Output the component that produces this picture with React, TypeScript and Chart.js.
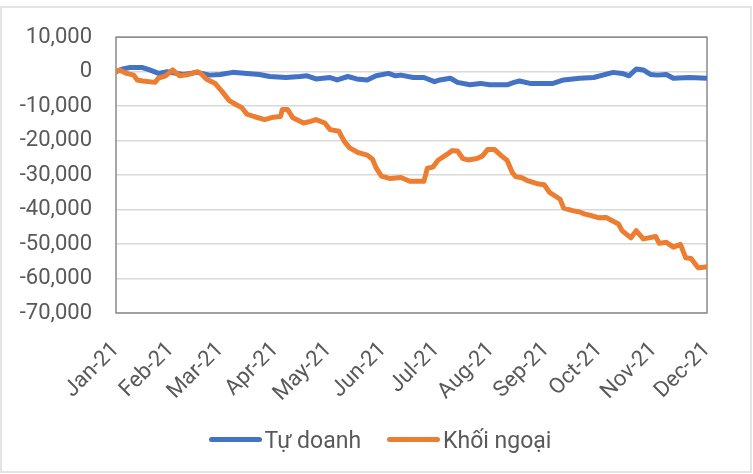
import React, { useEffect, useRef } from "react";
import { Chart, registerables } from "chart.js";

Chart.register(...registerables);

// Month tick labels and their day-of-year positions (date axis)
const monthLabels = ["Jan-21", "Feb-21", "Mar-21", "Apr-21", "May-21", "Jun-21", "Jul-21", "Aug-21", "Sep-21", "Oct-21", "Nov-21", "Dec-21"];
const monthStartDays = [0, 31, 59, 90, 120, 151, 181, 212, 243, 273, 304, 334];

// Y axis range
const yMin = -70000;
const yMax = 10000;
const yStep = 10000;

// Series: "Tự doanh"
const tuDoanhDays = [
  0, 4, 8, 15, 19, 24, 29, 38, 46, 53,
  59, 66, 74, 81, 87, 96, 104, 108, 113, 121,
  125, 131, 136, 142, 147, 154, 158, 161, 168, 174,
  180, 183, 189, 193, 200, 206, 211, 221, 225, 228,
  234, 247, 253, 262, 270, 275, 281, 286, 290, 294,
  298, 302, 306, 311, 315, 324, 334,
];
const tuDoanhValues = [
  0, 800, 1200, 1200, 500, -500, 0, -800, -200, -1000,
  -800, -200, -500, -800, -1400, -1700, -1400, -1200, -2100, -1700,
  -2400, -1400, -2100, -2400, -1200, -500, -1200, -1000, -1700, -1700,
  -2900, -2400, -1900, -3100, -3800, -3400, -3800, -3800, -3100, -2700,
  -3400, -3400, -2400, -1900, -1700, -1000, -200, -500, -1200, 800,
  500, -800, -1000, -800, -1900, -1700, -1900,
];

// Series: "Khối ngoại"
const khoiNgoaiDays = [
  0, 2, 6, 10, 12, 15, 22, 24, 28, 32,
  36, 41, 46, 48, 51, 56, 60, 64, 68, 71,
  74, 78, 84, 89, 93, 94, 97, 100, 106, 110,
  113, 118, 121, 126, 129, 132, 137, 142, 145, 147,
  150, 155, 161, 166, 174, 176, 179, 182, 187, 190,
  193, 196, 199, 204, 207, 210, 214, 218, 221, 224,
  226, 229, 233, 238, 242, 245, 251, 253, 258, 262,
  265, 269, 273, 277, 281, 284, 286, 291, 294, 298,
  305, 307, 311, 315, 319, 322, 325, 329, 332, 334,
];
const khoiNgoaiValues = [
  0, 500, -500, -1000, -2400, -2700, -3100, -1900, -1200, 500,
  -1200, -800, 0, -500, -2100, -3400, -5800, -8400, -9600, -10400,
  -12300, -13000, -13900, -13200, -13000, -11000, -11000, -13400, -14900, -14400,
  -13900, -14900, -16800, -17300, -20200, -22100, -23500, -24200, -25400, -27900,
  -30300, -31000, -30700, -31800, -31800, -28000, -27700, -25700, -24000, -22900,
  -23000, -25200, -25600, -25200, -24500, -22600, -22600, -24500, -25700, -29300,
  -30500, -30700, -31700, -32500, -32800, -35000, -37000, -39600, -40300, -40700,
  -41300, -41800, -42400, -42300, -43400, -44200, -46100, -48200, -46100, -48500,
  -47800, -49800, -49500, -50900, -50100, -54000, -54200, -56900, -56700, -56600,
];

const seriesLabels = ["Tự doanh", "Khối ngoại"];
const seriesColors = ["#4472C4", "#ED7D31"];

const FONT = "Roboto, 'Liberation Sans', sans-serif";
const TEXT = "#595959";

export default function App() {
  const ref = useRef<HTMLCanvasElement | null>(null);

  useEffect(() => {
    if (!ref.current) return;
    const plotBox = {
      id: "plotBox",
      beforeDatasetsDraw(chart: any) {
        const { ctx, chartArea: a } = chart;
        ctx.save();
        ctx.strokeStyle = "#8a8a8a";
        ctx.lineWidth = 1.5;
        ctx.strokeRect(a.left, a.top, a.right - a.left, a.bottom - a.top);
        ctx.restore();
      },
    };
    const chart = new Chart(ref.current, {
      type: "line",
      data: {
        datasets: [
          {
            label: seriesLabels[0],
            data: tuDoanhDays.map((d, i) => ({ x: d, y: tuDoanhValues[i] })),
            borderColor: seriesColors[0],
            backgroundColor: seriesColors[0],
            borderWidth: 5,
            pointRadius: 0,
            tension: 0,
            borderJoinStyle: "round",
            borderCapStyle: "round",
            order: 1,
          },
          {
            label: seriesLabels[1],
            data: khoiNgoaiDays.map((d, i) => ({ x: d, y: khoiNgoaiValues[i] })),
            borderColor: seriesColors[1],
            backgroundColor: seriesColors[1],
            borderWidth: 5,
            pointRadius: 0,
            tension: 0,
            borderJoinStyle: "round",
            borderCapStyle: "round",
            order: 0,
          },
        ],
      },
      options: {
        responsive: false,
        animation: false,
        devicePixelRatio: 1,
        layout: { padding: { left: 0, right: 46, top: 35, bottom: 61 } },
        plugins: { legend: { display: false }, tooltip: { enabled: false } },
        scales: {
          x: {
            type: "linear",
            min: monthStartDays[0],
            max: monthStartDays[monthStartDays.length - 1],
            grid: { display: false, drawTicks: false },
            border: { display: false },
            afterBuildTicks: (scale: any) => {
              scale.ticks = monthStartDays.map((v) => ({ value: v }));
            },
            afterFit: (scale: any) => {
              scale.height = 100;
            },
            ticks: {
              autoSkip: false,
              minRotation: 45,
              maxRotation: 45,
              padding: 24,
              color: TEXT,
              font: { family: FONT, size: 22 },
              callback: (_v: any, i: number) => monthLabels[i],
            },
          },
          y: {
            min: yMin,
            max: yMax,
            grid: { color: "#d9d9d9", lineWidth: 1.5, drawTicks: false },
            border: { display: false },
            afterFit: (scale: any) => {
              scale.width = 116;
            },
            ticks: {
              stepSize: yStep,
              padding: 24,
              color: TEXT,
              font: { family: FONT, size: 22 },
              callback: (v: any) => Number(v).toLocaleString("en-US"),
            },
          },
        },
      },
      plugins: [plotBox],
    });
    return () => chart.destroy();
  }, []);

  return (
    <div style={{ position: "absolute", left: 0, top: 0, width: 753, height: 474, background: "#fff", overflow: "hidden" }}>
      <div
        style={{
          position: "absolute",
          left: 0,
          top: 6,
          width: 752,
          height: 467,
          boxSizing: "border-box",
          border: "2px solid #e4e4e4",
        }}
      />
      <canvas ref={ref} width={753} height={474} style={{ position: "absolute", left: 0, top: 0, width: 753, height: 474 }} />
      <div
        style={{
          position: "absolute",
          left: 0,
          top: 425,
          width: 760,
          display: "flex",
          justifyContent: "center",
          alignItems: "center",
          fontFamily: FONT,
          fontSize: 23,
          lineHeight: "31px",
          color: TEXT,
        }}
      >
        {seriesLabels.map((lab, i) => (
          <div key={lab} style={{ display: "flex", alignItems: "center", marginLeft: i === 0 ? 0 : 26 }}>
            <span
              style={{
                display: "inline-block",
                width: 53,
                height: 5,
                borderRadius: 3,
                background: seriesColors[i],
                marginRight: 3,
                position: "relative",
                top: -1,
              }}
            />
            <span>{lab}</span>
          </div>
        ))}
      </div>
    </div>
  );
}
